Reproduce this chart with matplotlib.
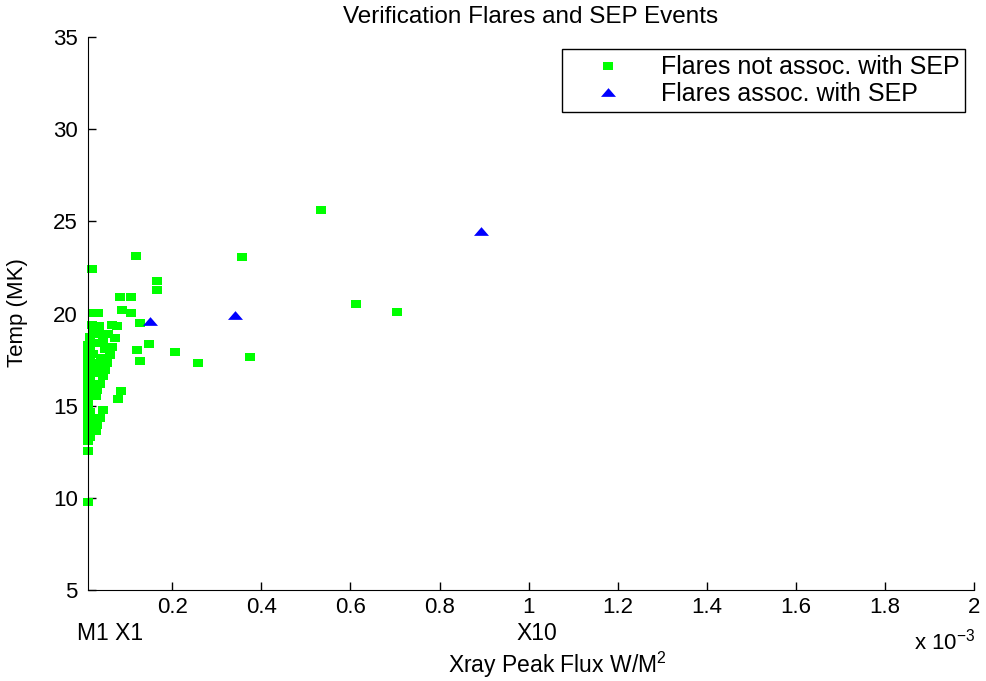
import numpy as np
import matplotlib
matplotlib.use("Agg")
from matplotlib import pyplot as plt
from matplotlib.ticker import FixedLocator, FuncFormatter

plt.rcParams['font.family'] = ['Liberation Sans', 'DejaVu Sans']
plt.rcParams['mathtext.fontset'] = 'custom'
plt.rcParams['mathtext.rm'] = 'Liberation Sans'
plt.rcParams['mathtext.it'] = 'Liberation Sans:italic'

# x-ray peak flux in units of 1e-3 W/m^2, temperature in MK
# flares not associated with SEP events
no_sep_flux = [0.535, 0.119, 0.356, 0.021, 0.166, 0.166, 0.083, 0.108, 0.088, 0.108,
               0.127, 0.613, 0.705, 0.148, 0.120, 0.207, 0.127, 0.258, 0.374, 0.084,
               0.079, 0.010, 0.010,
               0.023, 0.034, 0.019, 0.022, 0.016, 0.012, 0.064, 0.075, 0.041, 0.071,
               0.045, 0.064, 0.030, 0.050, 0.030, 0.035, 0.055, 0.027, 0.045,
               0.010, 0.010, 0.010, 0.010, 0.010, 0.010, 0.010, 0.010, 0.010, 0.010,
               0.010, 0.010, 0.010,
               0.016, 0.016, 0.016, 0.016, 0.016, 0.016, 0.016, 0.016, 0.016, 0.016,
               0.022, 0.022, 0.022, 0.022, 0.022, 0.022, 0.022,
               0.030, 0.032, 0.039, 0.045, 0.030, 0.032, 0.039, 0.045, 0.049, 0.053,
               0.060, 0.035, 0.040]
no_sep_temp = [25.6, 23.1, 23.05, 22.4, 21.75, 21.3, 20.9, 20.9, 20.2, 20.05,
               19.5, 20.5, 20.1, 18.35, 18.0, 17.9, 17.45, 17.3, 17.65, 15.8,
               15.35, 12.55, 9.75,
               20.05, 20.05, 19.4, 19.15, 18.7, 18.3, 19.4, 19.35, 18.9, 18.65,
               18.5, 18.2, 18.4, 18.1, 18.9, 19.3, 18.9, 17.3, 17.3,
               13.1, 13.5, 13.9, 14.3, 14.7, 15.1, 15.5, 15.9, 16.3, 16.7,
               17.1, 17.5, 17.9,
               13.3, 13.8, 14.3, 14.65, 15.5, 16.0, 16.5, 17.0, 17.6, 18.1,
               13.7, 14.2, 15.6, 16.2, 16.8, 17.3, 17.8,
               13.6, 13.95, 14.35, 14.75, 15.5, 15.85, 16.2, 16.6, 16.95, 17.3,
               17.75, 17.0, 17.6]

# flares associated with SEP events
sep_flux = [0.151, 0.340, 0.893]
sep_temp = [19.6, 19.9, 24.5]

x_ticks = [0.2, 0.4, 0.6, 0.8, 1.0, 1.2, 1.4, 1.6, 1.8, 2.0]
y_ticks = [5, 10, 15, 20, 25, 30, 35]

# MATLAB style flattened markers (picture is stretched sideways)
rect = [(-1, -0.77), (1, -0.77), (1, 0.77), (-1, 0.77), (-1, -0.77)]
tri = [(-1, -0.58), (1, -0.58), (0, 0.58), (-1, -0.58)]

fig = plt.figure(figsize=(9.87, 6.81), dpi=100)
ax = fig.add_axes([0.0887, 0.1336, 0.8984, 0.8120])

ax.plot(np.array(no_sep_flux) * 1e-3, no_sep_temp, linestyle='none', marker=rect,
        markersize=6.9, color='#00ff00', markeredgewidth=0, clip_on=False,
        label='Flares not assoc. with SEP')
ax.plot(np.array(sep_flux) * 1e-3, sep_temp, linestyle='none', marker=tri,
        markersize=10.8, color='#0000ff', markeredgewidth=0, clip_on=False,
        label='Flares assoc. with SEP')

ax.set_xlim(1e-5, 2e-3)
ax.set_ylim(5, 35)
ax.xaxis.set_major_locator(FixedLocator(np.array(x_ticks) * 1e-3))
ax.xaxis.set_major_formatter(FuncFormatter(lambda v, p: '%g' % round(v * 1e3, 3)))
ax.yaxis.set_major_locator(FixedLocator(y_ticks))
ax.spines['top'].set_visible(False)
ax.spines['right'].set_visible(False)
ax.tick_params(direction='in', length=6, width=1, labelsize=16)
ax.tick_params(axis='y', pad=7)
ax.tick_params(axis='x', pad=5)

leg = ax.legend(loc='upper right', bbox_to_anchor=(0.99, 0.978), borderaxespad=0,
                fontsize=18, fancybox=False, edgecolor='black', framealpha=1,
                handlelength=3.2, handletextpad=0.5, labelspacing=0.1, borderpad=0.25)
leg.get_frame().set_linewidth(1)

fig.text(531 / 987, 1 - 17 / 681, 'Verification Flares and SEP Events',
         ha='center', va='center', fontsize=17.5)
fig.text(18 / 987, 1 - 313 / 681, 'Temp (MK)', rotation=90,
         ha='center', va='center', fontsize=16)
fig.text(110 / 987, 1 - 634 / 681, 'M1 X1', ha='center', va='center', fontsize=16.5)
fig.text(537 / 987, 1 - 634 / 681, 'X10', ha='center', va='center', fontsize=16.5)
fig.text(975 / 987, 1 - 642 / 681, r'x 10$^{-3}$', ha='right', va='center', fontsize=16)
fig.text(557 / 987, 1 - 665 / 681, r'Xray Peak Flux W/M$^{2}$',
         ha='center', va='center', fontsize=16.5)

fig.savefig('out.png', dpi=100)
